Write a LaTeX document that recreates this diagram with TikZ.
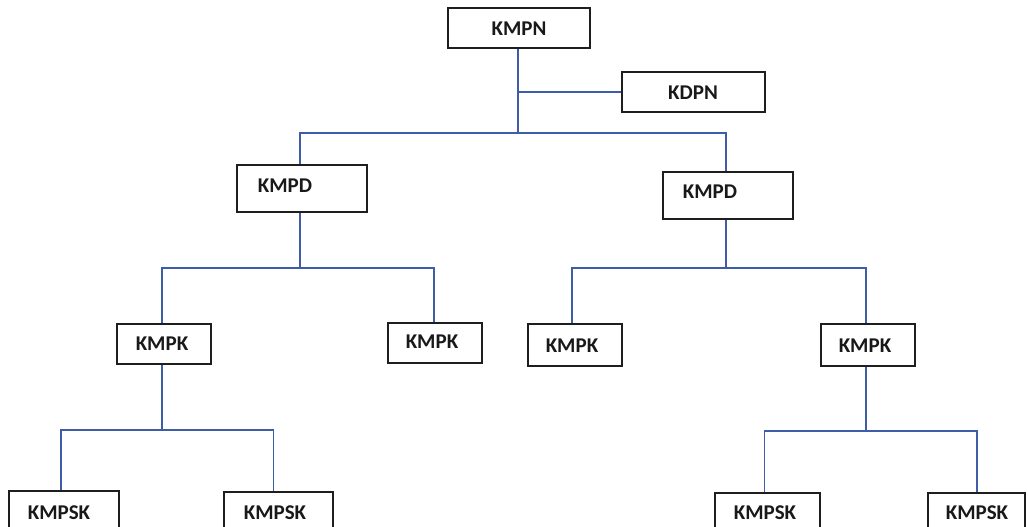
\documentclass[tikz,border=0pt]{standalone}
\usepackage{fontspec}
\setmainfont{Carlito}
\definecolor{linkblue}{RGB}{62,92,168}
\definecolor{boxedge}{RGB}{30,30,30}
\begin{document}
\begin{tikzpicture}[x=1pt,y=-1pt,
  box/.style={draw=boxedge,line width=1.6pt,fill=white,inner sep=0pt},
  lbl/.style={font=\fontsize{21}{24}\selectfont\bfseries,inner sep=0pt,text=black!90},
  link/.style={draw=linkblue,line width=1.5pt}]
\useasboundingbox (0,0) rectangle (1028,527);
\clip (0,0) rectangle (1028,527);
% boxes
\node[box,minimum width=142pt,minimum height=40pt] (kmpn) at (519,28) {};
\node[box,minimum width=143pt,minimum height=40pt] (kdpn) at (693.5,92) {};
\node[box,minimum width=130pt,minimum height=47pt] (kmpdL) at (302,188.5) {};
\node[box,minimum width=130pt,minimum height=47pt] (kmpdR) at (728,195.5) {};
\node[box,minimum width=94pt,minimum height=40pt] (kkLL) at (164,344) {};
\node[box,minimum width=94pt,minimum height=40pt] (kkLR) at (435,343) {};
\node[box,minimum width=94pt,minimum height=42pt] (kkRL) at (575,345) {};
\node[box,minimum width=94pt,minimum height=42pt] (kkRR) at (868,345) {};
\node[box,minimum width=110pt,minimum height=42pt] (s1) at (64,512) {};
\node[box,minimum width=109pt,minimum height=42pt] (s2) at (278.5,513) {};
\node[box,minimum width=105pt,minimum height=42pt] (s3) at (767.5,514) {};
\node[box,minimum width=97pt,minimum height=42pt] (s4) at (976.5,514) {};
% labels
\node[lbl] (tkmpn) at (519,29) {KMPN};
\node[lbl] (tkdpn) at (693,93) {KDPN};
\node[lbl] (tkmpdL) at (285,186) {KMPD};
\node[lbl] (tkmpdR) at (710,192) {KMPD};
\node[lbl] (tkkLL) at (162,344) {KMPK};
\node[lbl] (tkkLR) at (432,342) {KMPK};
\node[lbl] (tkkRL) at (572,346) {KMPK};
\node[lbl] (tkkRR) at (865,346) {KMPK};
\node[lbl] (ts1) at (59,512.5) {KMPSK};
\node[lbl] (ts2) at (275,513) {KMPSK};
\node[lbl] (ts3) at (765,513) {KMPSK};
\node[lbl] (ts4) at (977,513) {KMPSK};
% junctions
\coordinate (b1) at (518,133);
\coordinate (b2L) at (300,268);
\coordinate (b2R) at (726,268);
\coordinate (b3L) at (162,430);
\coordinate (b3R) at (866,431);
% connectors
\draw[link] ([xshift=-1pt]kmpn.south) -- (b1);
\draw[link] ([xshift=-1pt]kmpn.south |- kdpn.west) -- (kdpn.west);
\draw[link] ([xshift=-2pt]kmpdL.north) |- (b1) -| ([xshift=-2pt]kmpdR.north);
\draw[link] ([xshift=-2pt]kmpdL.south) -- (b2L);
\draw[link] ([xshift=-2pt]kkLL.north) |- (b2L) -| ([xshift=-1pt]kkLR.north);
\draw[link] ([xshift=-2pt]kmpdR.south) -- (b2R);
\draw[link] ([xshift=-3pt]kkRL.north) |- (b2R) -| ([xshift=-2pt]kkRR.north);
\draw[link] ([xshift=-2pt]kkLL.south) -- (b3L);
\draw[link] ([xshift=-3pt]s1.north) |- (b3L) -| ([xshift=-5pt]s2.north);
\draw[link] ([xshift=-2pt]kkRR.south) -- (b3R);
\draw[link] ([xshift=-3pt]s3.north) |- (b3R) -| ([xshift=0.5pt]s4.north);
\end{tikzpicture}
\end{document}
